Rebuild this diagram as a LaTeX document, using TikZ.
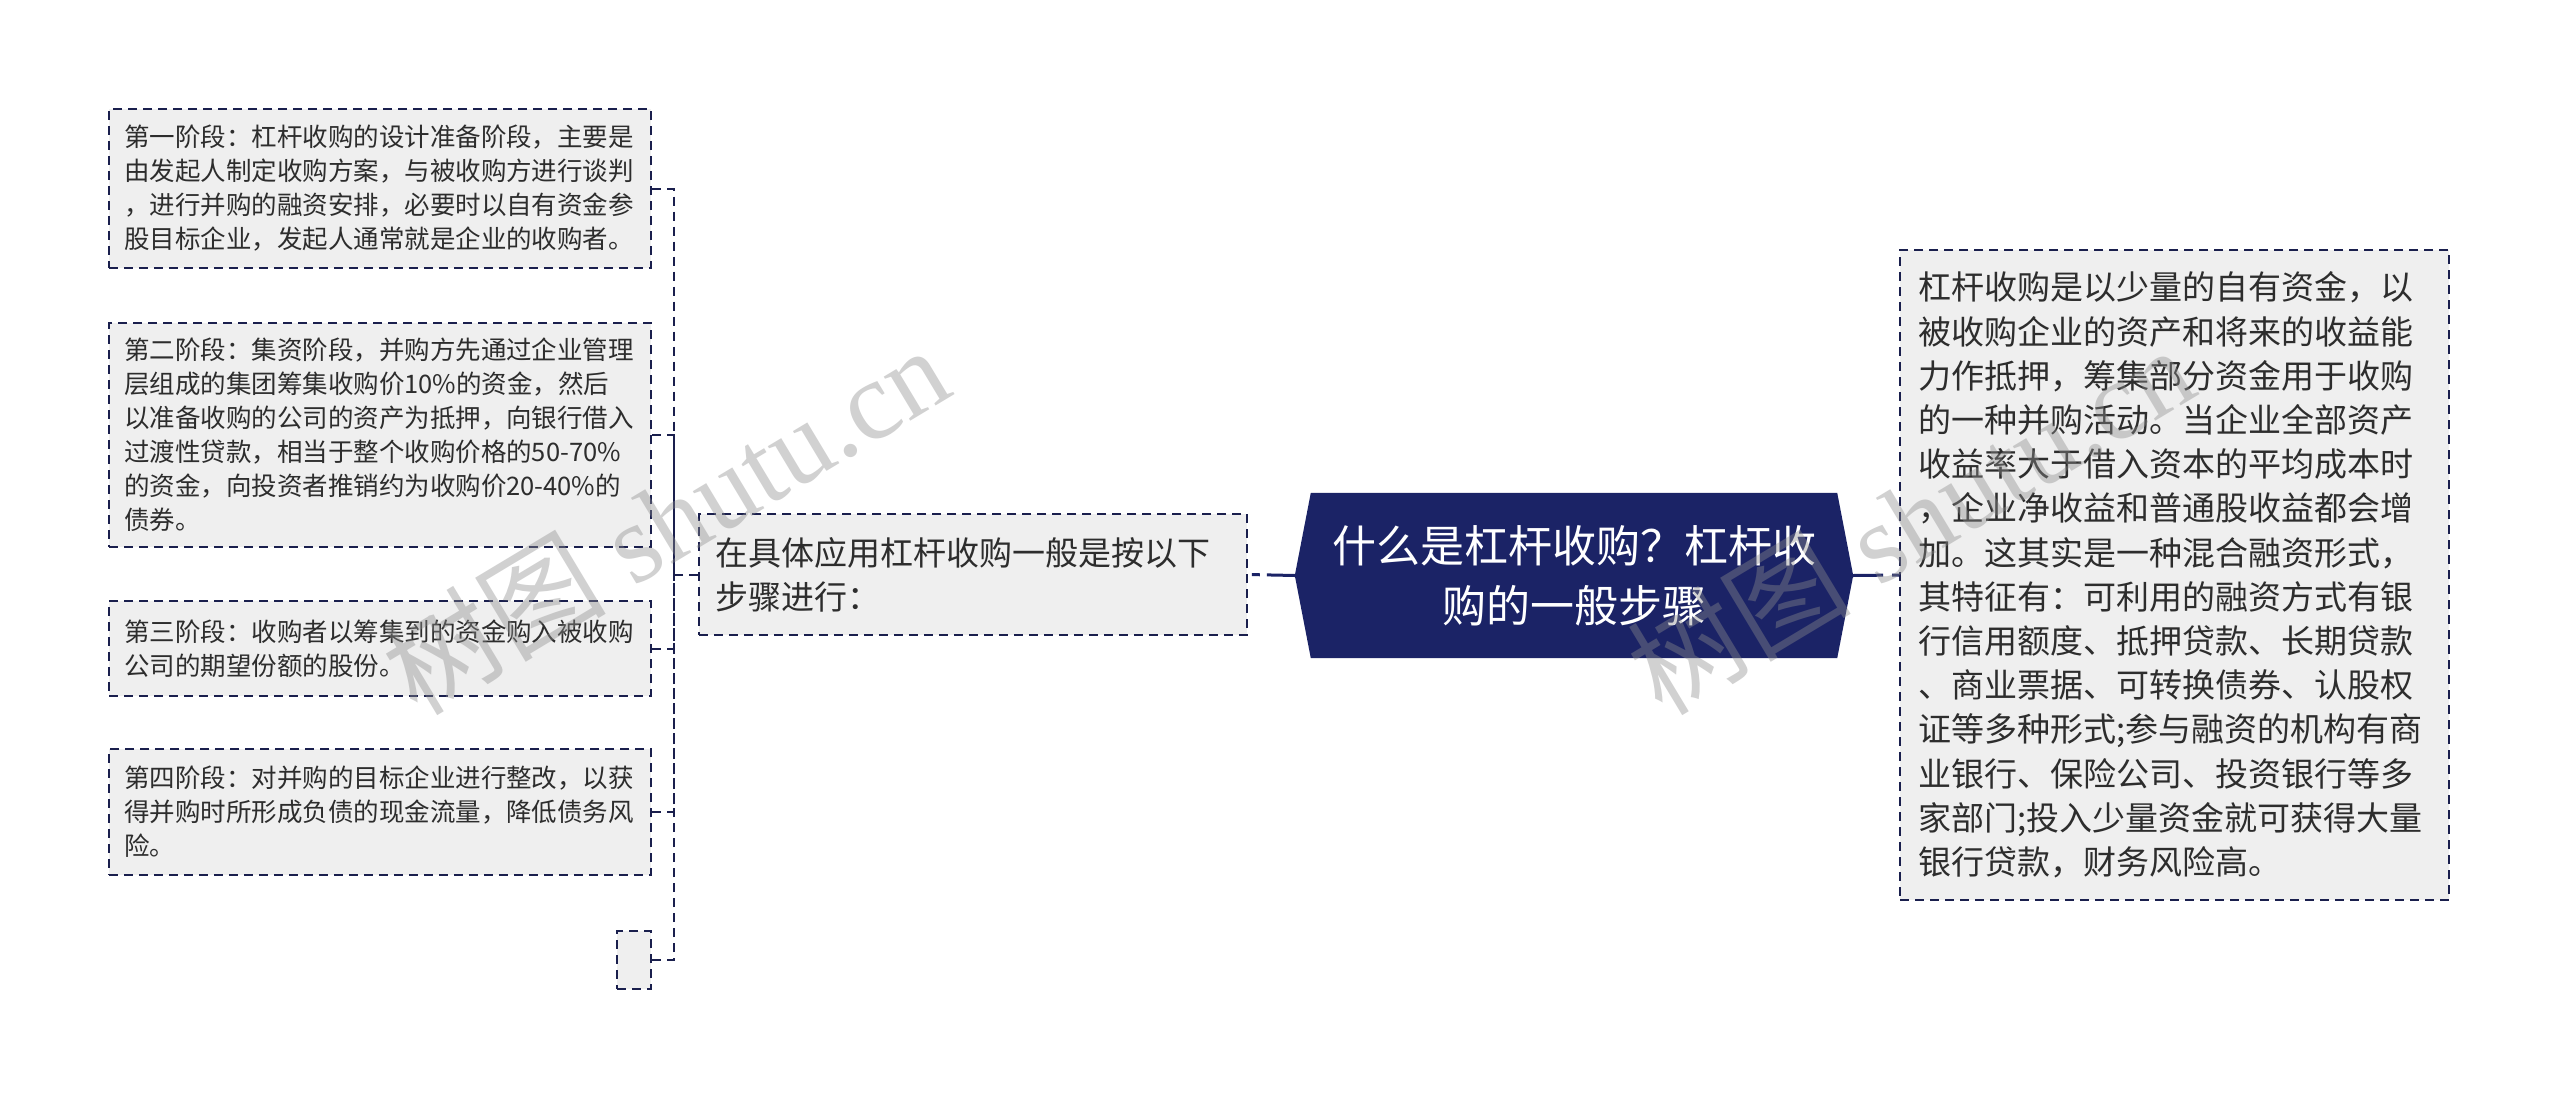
\documentclass[tikz,border=0pt]{standalone}
\usepackage{fontspec}
\newfontfamily\cjk{Noto Sans CJK SC}
\newfontfamily\wmlat{Liberation Serif}
\usetikzlibrary{backgrounds,calc}
\definecolor{navy}{RGB}{27,35,102}
\definecolor{linec}{RGB}{26,31,77}
\definecolor{boxfill}{RGB}{239,239,239}
\definecolor{txt}{RGB}{45,45,45}
\definecolor{wm}{RGB}{140,140,140}
\tikzset{
  dashbox/.style={draw=linec, line width=2pt, dash pattern=on 9pt off 6pt,
    fill=boxfill, text=txt, align=left, inner ysep=0pt, anchor=center},
  leaf/.style={dashbox, inner xsep=15pt, text width=512pt, minimum width=542pt,
    font=\cjk\fontsize{25.5pt}{34pt}\selectfont},
  bigleaf/.style={dashbox, font=\cjk\fontsize{33pt}{44.2pt}\selectfont},
  conn/.style={draw=linec, line width=2pt, dash pattern=on 9pt off 6pt},
  rootconn/.style={draw=navy, line width=3pt},
  wmark/.style={text=wm, text opacity=0.4, rotate=31, inner sep=0pt,
    font=\wmlat\fontsize{112pt}{112pt}\selectfont},
  rootnode/.style={text=white, align=center, inner sep=0pt,
    font=\cjk\fontsize{44pt}{60pt}\selectfont}
}
\begin{document}
\begin{tikzpicture}[x=1pt,y=-1pt]
\useasboundingbox (0,0) rectangle (2560,1100);

% left leaves
\node[leaf, minimum height=159pt] (b1) at (380,188.5)
 {第一阶段：杠杆收购的设计准备阶段，主要是\\由发起人制定收购方案，与被收购方进行谈判\\，进行并购的融资安排，必要时以自有资金参\\股目标企业，发起人通常就是企业的收购者。};
\node[leaf, minimum height=224pt] (b2) at (380,435)
 {第二阶段：集资阶段，并购方先通过企业管理\\层组成的集团筹集收购价10\%的资金，然后\\以准备收购的公司的资产为抵押，向银行借入\\过渡性贷款，相当于整个收购价格的50-70\%\\的资金，向投资者推销约为收购价20-40\%的\\债券。};
\node[leaf, minimum height=95pt] (b3) at (380,648.5)
 {第三阶段：收购者以筹集到的资金购入被收购\\公司的期望份额的股份。};
\node[leaf, minimum height=126pt] (b4) at (380,812)
 {第四阶段：对并购的目标企业进行整改，以获\\得并购时所形成负债的现金流量，降低债务风\\险。};
\node[dashbox, minimum width=34pt, minimum height=58pt, inner sep=0pt] (b5) at (634,960) {};

% middle
\node[bigleaf, inner xsep=16pt, text width=516pt, minimum width=548pt, minimum height=121pt] (mid) at (973,574.5)
 {在具体应用杠杆收购一般是按以下\\步骤进行：};

% root
\node[rootnode, minimum width=558pt, minimum height=165pt] (root) at (1574,575.5)
 {什么是杠杆收购？杠杆收\\购的一般步骤};
\begin{scope}[on background layer]
\fill[white] (0,0) rectangle (2560,1100);
\fill[navy] ($(root.north west)+(16pt,0)$) -- ($(root.north east)+(-16pt,0)$) -- (root.east)
  -- ($(root.south east)+(-16pt,0)$) -- ($(root.south west)+(16pt,0)$) -- (root.west) -- cycle;
\end{scope}

% right
\node[bigleaf, inner xsep=18pt, text width=513pt, minimum width=549pt, minimum height=650pt] (right) at (2174.5,575)
 {杠杆收购是以少量的自有资金，以\\被收购企业的资产和将来的收益能\\力作抵押，筹集部分资金用于收购\\的一种并购活动。当企业全部资产\\收益率大于借入资本的平均成本时\\，企业净收益和普通股收益都会增\\加。这其实是一种混合融资形式，\\其特征有：可利用的融资方式有银\\行信用额度、抵押贷款、长期贷款\\、商业票据、可转换债券、认股权\\证等多种形式;参与融资的机构有商\\业银行、保险公司、投资银行等多\\家部门;投入少量资金就可获得大量\\银行贷款，财务风险高。};

% connectors
\coordinate (trunk) at (674,574.5);
\draw[conn] (mid.west) -- (trunk);
\draw[conn] (b1.east) -| (trunk);
\draw[conn] (b2.east) -| (trunk);
\draw[conn] (b3.east) -| (trunk);
\draw[conn] (b4.east) -| (trunk);
\draw[conn] (b5.east) -| (trunk);
\draw[rootconn, dash pattern=on 28pt off 7pt on 8pt off 20pt] (root.west) -- (mid.east);
\draw[rootconn, dash pattern=on 30pt off 9pt on 8pt off 20pt] (root.east) -- (right.west);

% watermarks
\node[wmark] (wm1) at (665,519) {{\cjk 树图} shutu.cn};
\node[wmark] (wm2) at (1910,519) {{\cjk 树图} shutu.cn};
\end{tikzpicture}
\end{document}
